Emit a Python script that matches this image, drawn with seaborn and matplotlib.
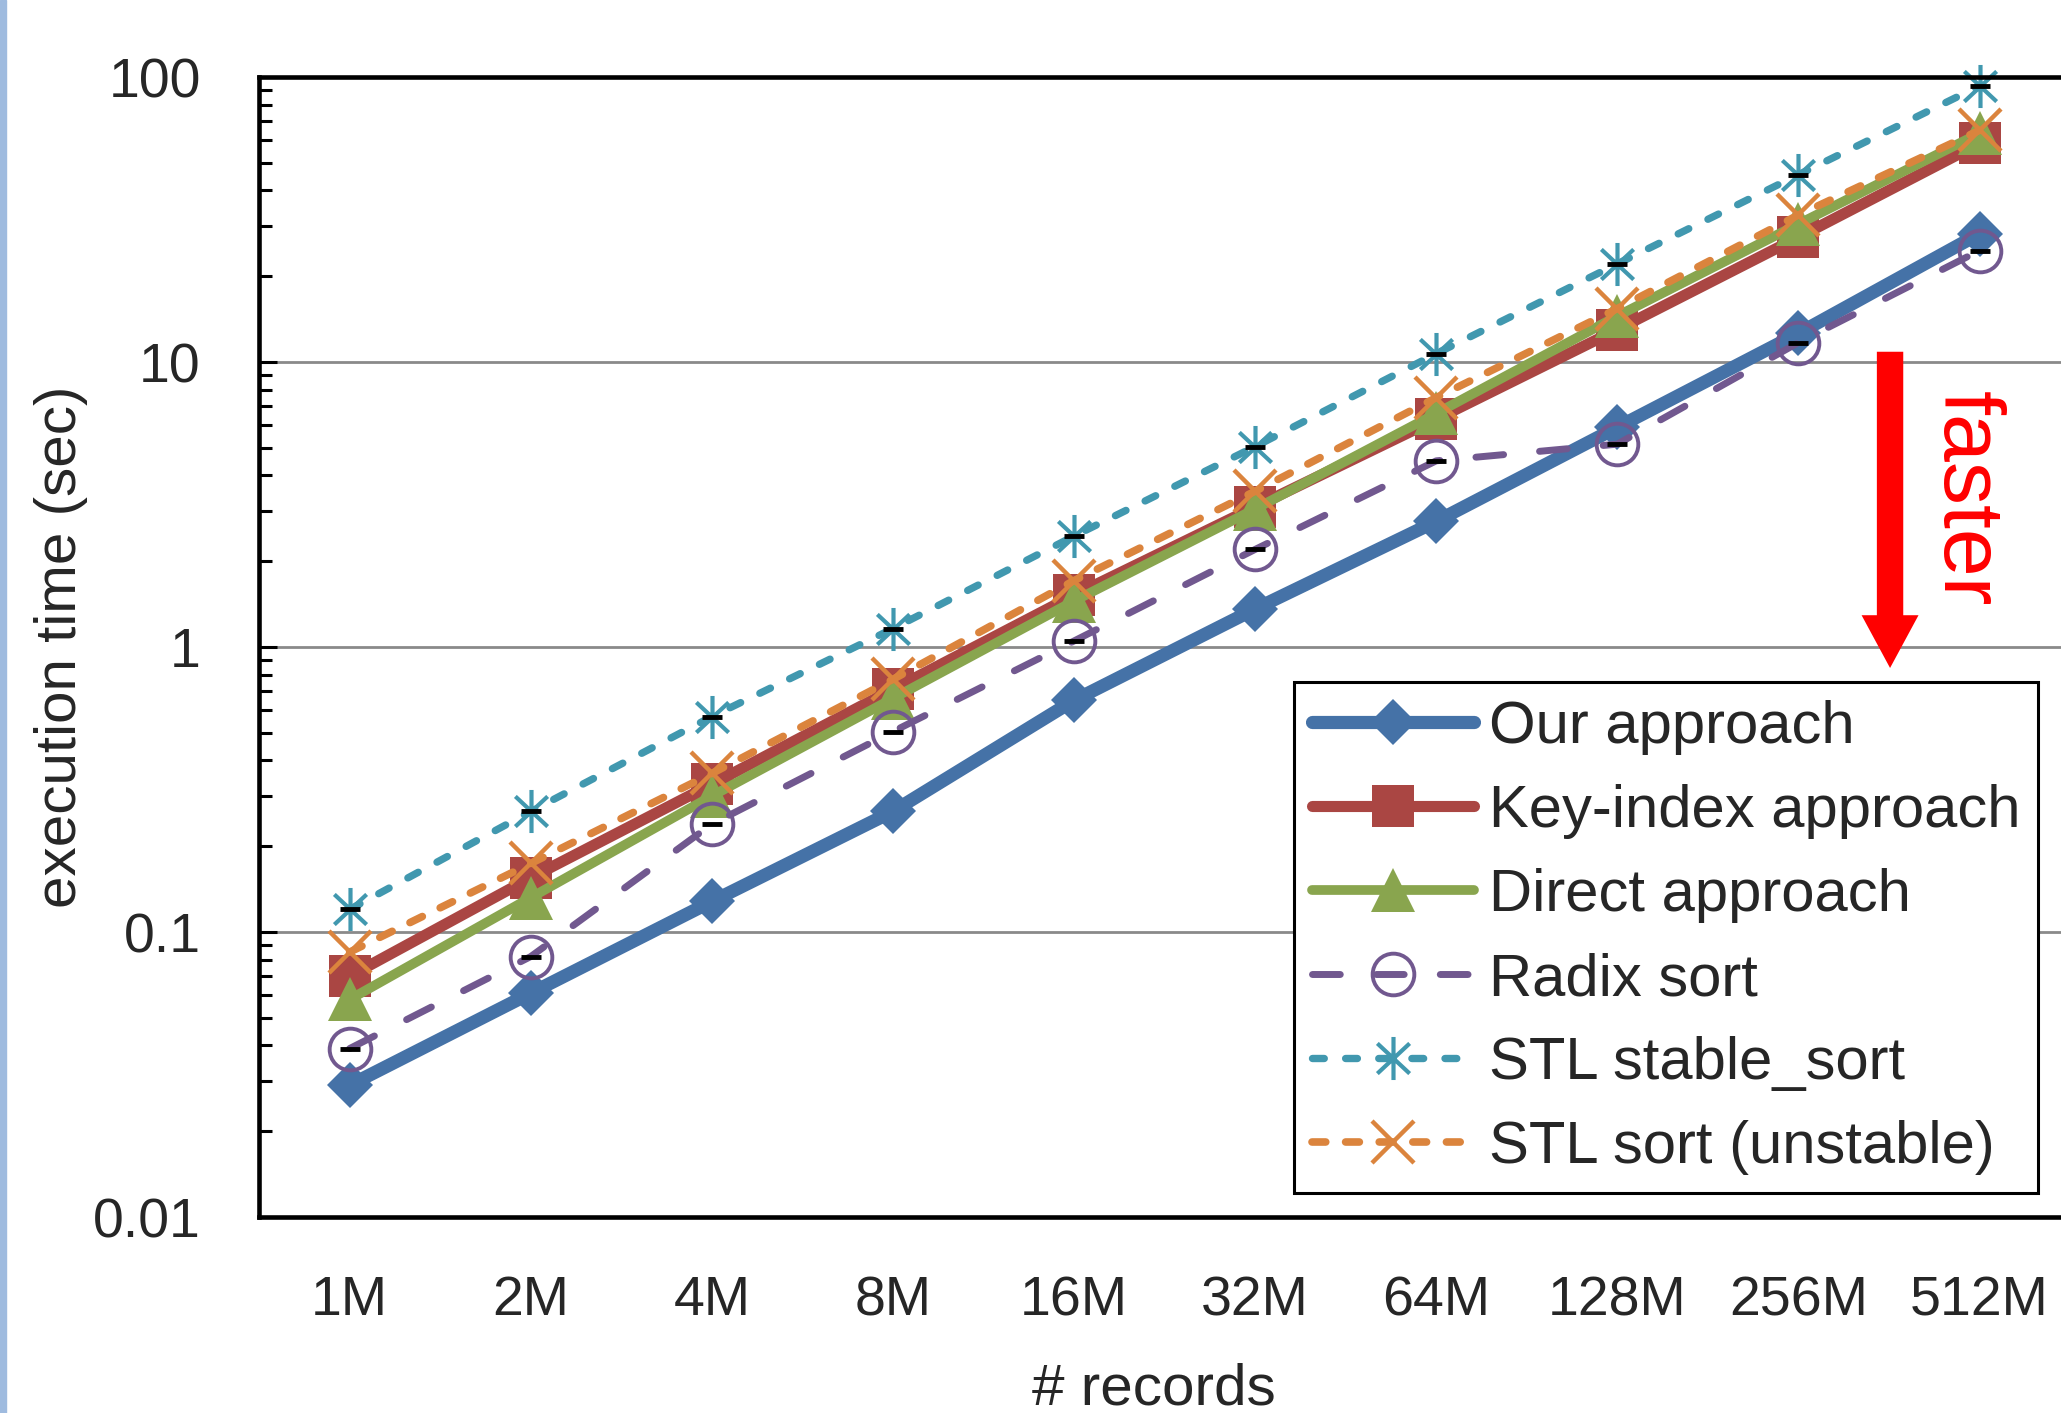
import pandas as pd
import seaborn as sns
import matplotlib.pyplot as plt
from matplotlib.patches import Rectangle
from matplotlib.path import Path
from matplotlib.ticker import FixedLocator, FuncFormatter, LogLocator, NullFormatter

# execution time (sec) per number of records
sizes = ["1M", "2M", "4M", "8M", "16M", "32M", "64M", "128M", "256M", "512M"]
our_approach = [0.029, 0.061, 0.128, 0.265, 0.65, 1.36, 2.76, 5.9, 12.6, 28.2]
key_index = [0.070, 0.155, 0.33, 0.71, 1.52, 3.1, 6.3, 13.0, 27.4, 58.5]
direct = [0.058, 0.132, 0.30, 0.66, 1.45, 3.05, 6.6, 14.5, 30.5, 63.5]
radix = [0.039, 0.082, 0.239, 0.505, 1.05, 2.2, 4.5, 5.15, 11.7, 24.6]
stl_stable = [0.12, 0.265, 0.57, 1.16, 2.45, 5.05, 10.7, 22.1, 45.4, 93]
stl_sort = [0.085, 0.174, 0.36, 0.77, 1.71, 3.52, 7.5, 15.4, 32.8, 65]
labels = ["Our approach", "Key-index approach", "Direct approach",
          "Radix sort", "STL stable_sort", "STL sort (unstable)"]

sns.set_style("white")
plt.rcParams['font.family'] = ['Liberation Sans', 'DejaVu Sans']

# asterisk marker like excel's
star = Path([(0, -1), (0, 1), (-0.75, -0.7), (0.75, 0.7), (-0.75, 0.7), (0.75, -0.7)],
            [Path.MOVETO, Path.LINETO] * 3)

styles = [
    dict(color="#4572A7", lw=9.5, ls="-", marker="D", ms=23, mfc="#4572A7", mew=0),
    dict(color="#AA4643", lw=8, ls="-", marker="s", ms=30, mfc="#AA4643", mew=0),
    dict(color="#89A54E", lw=7, ls="-", marker="^", ms=31, mfc="#89A54E", mew=0),
    dict(color="#71588F", lw=5.0, ls=(0, (4, 5.2)), marker="o", ms=30, mfc="none", mew=2.8),
    dict(color="#4198AF", lw=5.3, ls=(0, (1.6, 2.9)), marker=star, ms=31, mfc="none", mew=3),
    dict(color="#DB843D", lw=5.5, ls=(0, (1.8, 2.6)), marker="x", ms=30, mfc="none", mew=3.2),
]
data = [our_approach, key_index, direct, radix, stl_stable, stl_sort]

fig = plt.figure(figsize=(20.61, 14.13), dpi=100)
ax = fig.add_axes([0.1257, 0.1387, 0.8787, 0.8068])

handles = []
for lab, vals, st in zip(labels, data, styles):
    n = len(ax.lines)
    sns.lineplot(x=sizes, y=vals, ax=ax, color=st["color"], linewidth=st["lw"],
                 linestyle=st["ls"], marker=st["marker"], markersize=st["ms"],
                 markerfacecolor=st["mfc"], markeredgecolor=st["color"],
                 markeredgewidth=st["mew"], dash_capstyle="round",
                 solid_capstyle="round", clip_on=False, legend=False)
    line = ax.lines[n]
    handles.append(line)
    if lab in ("Radix sort", "STL stable_sort"):
        ax.plot(sizes, vals, ls="none", marker="_", ms=15, mew=3.5,
                color="black", clip_on=False)

ax.set_yscale("log")
ax.set_ylim(0.01, 100)
ax.set_xlim(-0.5, 9.5)

ax.yaxis.set_major_locator(LogLocator(base=10))
ax.yaxis.set_minor_locator(LogLocator(base=10, subs=range(2, 10)))
ax.yaxis.set_major_formatter(FuncFormatter(lambda v, p: "%g" % v))
ax.yaxis.set_minor_formatter(NullFormatter())
ax.yaxis.grid(True, which="major", color="#8a8a8a", lw=2)
ax.set_axisbelow(True)

ax.xaxis.set_minor_locator(FixedLocator([i + 0.5 for i in range(9)]))
ax.tick_params(axis="x", which="major", length=0, pad=42, labelsize=40)
ax.tick_params(axis="x", which="minor", direction="in", length=11, width=2.2, color="black")
ax.tick_params(axis="y", which="major", direction="in", length=13, width=2.2, pad=42,
               labelsize=40, color="black", left=True)
ax.tick_params(axis="y", which="minor", direction="in", length=9.5, width=2.2,
               color="black", left=True)

for s in ax.spines.values():
    s.set_color("black")
    s.set_linewidth(3.3)

ax.set_xlabel("# records", fontsize=42)
ax.set_ylabel("execution time (sec)", fontsize=42)
ax.xaxis.set_label_coords(0.494, -0.128)
ax.yaxis.set_label_coords(-0.0944, 0.5)

# arrow + "faster"
ax.annotate("", xy=(0.9006, 0.4816), xytext=(0.9006, 0.759), xycoords="axes fraction",
            arrowprops=dict(facecolor="#FF0000", edgecolor="none", width=19,
                            headwidth=41, headlength=38, shrink=0))
ax.text(0.942, 0.630, "faster", transform=ax.transAxes, rotation=-90, color="#FF0000",
        fontsize=62, ha="center", va="center")

leg = ax.legend(handles, labels, loc="lower right", bbox_to_anchor=(0.9888, 0.1557),
                bbox_transform=fig.transFigure, borderaxespad=0, fontsize=43,
                handlelength=2.7, handletextpad=0.25, labelspacing=0.485,
                borderpad=0.3, fancybox=False, framealpha=1, edgecolor="black")
leg.get_frame().set_linewidth(2.2)

# blue strip on the left edge
fig.patches.append(Rectangle((0, 0), 6 / 2061, 1, transform=fig.transFigure,
                             color="#9fbbdf", zorder=10))

fig.savefig("out.png", dpi=100)
